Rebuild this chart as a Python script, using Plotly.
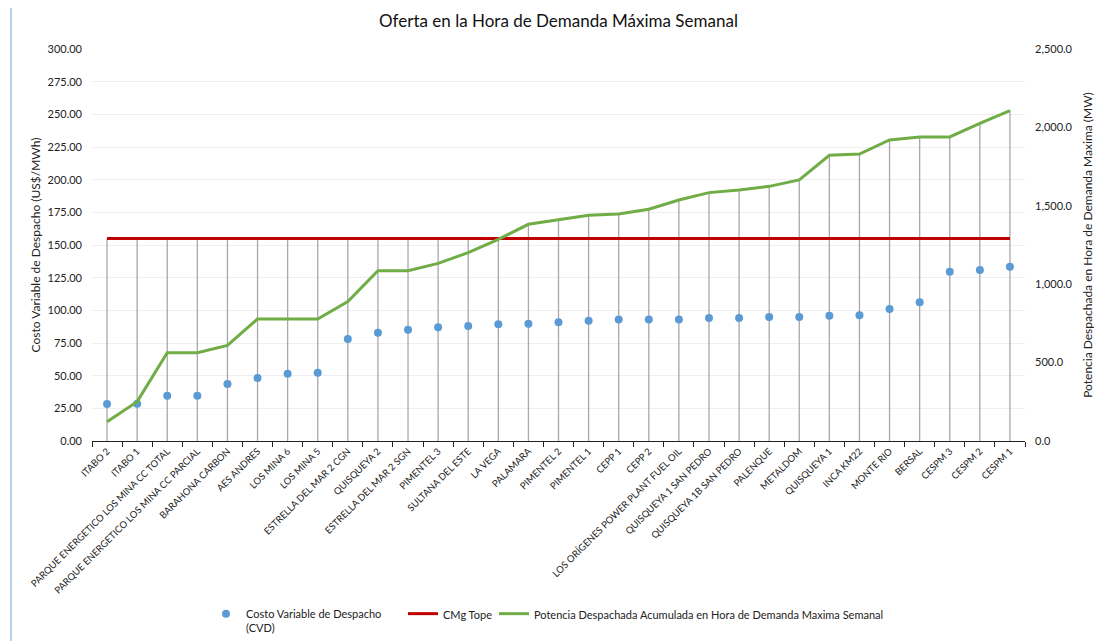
import plotly.graph_objects as go

categories = [
    "ITABO 2", "ITABO 1", "PARQUE ENERGETICO LOS MINA CC TOTAL",
    "PARQUE ENERGETICO LOS MINA CC PARCIAL", "BARAHONA CARBON", "AES ANDRES",
    "LOS MINA 6", "LOS MINA 5", "ESTRELLA DEL MAR 2 CGN", "QUISQUEYA 2",
    "ESTRELLA DEL MAR 2 SGN", "PIMENTEL 3", "SULTANA DEL ESTE", "LA VEGA",
    "PALAMARA", "PIMENTEL 2", "PIMENTEL 1", "CEPP 1", "CEPP 2",
    "LOS ORÍGENES POWER PLANT FUEL OIL", "QUISQUEYA 1 SAN PEDRO",
    "QUISQUEYA 1B SAN PEDRO", "PALENQUE", "METALDOM", "QUISQUEYA 1",
    "INCA KM22", "MONTE RIO", "BERSAL", "CESPM 3", "CESPM 2", "CESPM 1",
]
cvd = [28.3, 28.5, 34.7, 34.7, 43.6, 48.2, 51.5, 52.3, 78.1, 82.9, 85.2,
       87.0, 88.0, 89.3, 89.8, 90.8, 92.1, 92.9, 92.9, 92.9, 94.1, 94.1,
       94.9, 94.9, 95.9, 96.2, 101.0, 106.1, 129.6, 130.9, 133.4]
cmg_tope = [155.0] * len(categories)
potencia = [123, 251, 563, 563, 610, 778, 778, 778, 889, 1086, 1086, 1133,
            1201, 1286, 1382, 1410, 1439, 1448, 1478, 1537, 1584, 1601, 1624,
            1665, 1822, 1830, 1920, 1939, 1939, 2026, 2107]

LEFT_MAX = 300.0
RIGHT_MAX = 2500.0

# the page body has an 8px margin, so the figure is sized/shifted to match
OFF = 8
W, H = 1102 - OFF, 641 - OFF
ML, MR, MT, MB = 92 - OFF, 77, 49 - OFF, 200
PW, PH = W - ML - MR, H - MT - MB

def px(x):  # page x -> paper fraction
    return (x - OFF - ML) / PW

def py(y):  # page y -> paper fraction
    return (H - MB - (y - OFF)) / PH

FONT = "Lato, 'Open Sans', sans-serif"

# drop lines: from max of series (in left-axis units) down to zero
drop_x, drop_y = [], []
for c, r, p in zip(categories, cmg_tope, potencia):
    top = max(r, p / RIGHT_MAX * LEFT_MAX)
    drop_x += [c, c, None]
    drop_y += [0, top, None]

fig = go.Figure()
fig.add_trace(go.Scatter(
    x=drop_x, y=drop_y, mode="lines", line=dict(color="#a8a8a8", width=1.3),
    showlegend=False, hoverinfo="skip"))
fig.add_trace(go.Scatter(
    x=categories, y=cvd, mode="markers", name="Costo Variable de Despacho<br>(CVD)",
    marker=dict(color="#5b9bd5", size=8), legend="legend"))
fig.add_trace(go.Scatter(
    x=categories, y=cmg_tope, mode="lines", name="CMg Tope",
    line=dict(color="#c00000", width=3), legend="legend2"))
fig.add_trace(go.Scatter(
    x=categories, y=potencia, mode="lines", yaxis="y2",
    name="Potencia Despachada Acumulada en Hora de Demanda Maxima Semanal",
    line=dict(color="#70ad47", width=3), legend="legend3"))

shapes = [
    dict(type="line", xref="paper", yref="paper", x0=px(11), x1=px(11),
         y0=py(641), y1=py(OFF), line=dict(color="#9dc3e6", width=1.5)),
]

legend_common = dict(orientation="h", yanchor="top", xanchor="left",
                     font=dict(size=11), traceorder="normal", valign="top",
                     bgcolor="rgba(0,0,0,0)")

fig.update_layout(
    width=W, height=H,
    margin=dict(l=ML, r=MR, t=MT, b=MB, autoexpand=False),
    paper_bgcolor="white", plot_bgcolor="white",
    font=dict(family=FONT, size=11, color="#222"),
    title=dict(text="Oferta en la Hora de Demanda Máxima Semanal",
               x=0.5, xref="paper", y=1 - 13 / H, yanchor="middle",
               font=dict(size=17, color="#111")),
    xaxis=dict(
        type="category", range=[-0.5, len(categories) - 0.5],
        tickangle=-45, tickfont=dict(size=9.5), automargin=False,
        showline=True, linecolor="#222", linewidth=1,
        ticks="outside", tickson="boundaries", ticklen=5, tickcolor="#222",
        showgrid=False, zeroline=False,
    ),
    yaxis=dict(
        range=[0, LEFT_MAX], dtick=25, tickformat=".2f", automargin=False,
        showgrid=True, gridcolor="#efefef", gridwidth=1,
        zeroline=False, showline=False, ticks="", ticklabelstandoff=9,
        title=dict(text="Costo Variable de Despacho (US$/MWh)", font=dict(size=12), standoff=4),
    ),
    yaxis2=dict(
        range=[0, RIGHT_MAX], dtick=500, tickformat=",.1f", overlaying="y", side="right",
        showgrid=False, zeroline=False, showline=False, ticks="", automargin=False,
        ticklabelstandoff=9,
        title=dict(text="Potencia Despachada en Hora de Demanda Maxima (MW)", font=dict(size=12), standoff=11),
    ),
    legend=dict(x=px(206), y=py(600), **legend_common),
    legend2=dict(x=px(403), y=py(600), **legend_common),
    legend3=dict(x=px(494), y=py(600), **legend_common),
    shapes=shapes,
)

fig.write_html("out.html")
